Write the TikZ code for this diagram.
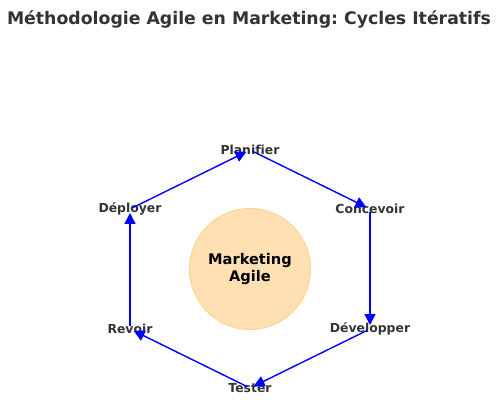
\documentclass[tikz,border=0pt]{standalone}
\usepackage{fontspec}
\setmainfont{DejaVu Sans}[Ligatures=NoCommon]
\frenchspacing
\usetikzlibrary{arrows.meta}
\definecolor{txtgray}{HTML}{333333}
\definecolor{circfill}{RGB}{255,224,178}
\definecolor{circedge}{RGB}{255,212,140}
\tikzset{
  steplabel/.style={text=txtgray, font=\fontsize{12.4}{14}\selectfont\bfseries, inner sep=0pt},
  cyclearrow/.style={draw=blue, line width=1.4pt, -{Triangle[length=11pt,width=11pt]}, shorten <=3pt, shorten >=4pt}
}
\begin{document}
\begin{tikzpicture}[x=1pt,y=-1pt]
\useasboundingbox (0,0) rectangle (500,403);
\node[text=txtgray, font=\fontsize{17.3}{20}\selectfont\bfseries, inner sep=0pt] (title) at (249,19) {Méthodologie Agile en Marketing: Cycles Itératifs};
\node[circle, minimum size=121pt, fill=circfill, draw=circedge, line width=1pt, inner sep=0pt, align=center, font=\fontsize{14.6}{17}\selectfont\bfseries] (center) at (250,269) {Marketing\\[0pt]Agile};
\coordinate (v1) at (250,150);
\coordinate (v2) at (370,209);
\coordinate (v3) at (370,329);
\coordinate (v4) at (250,388);
\coordinate (v5) at (130,329);
\coordinate (v6) at (130,209);
\node[steplabel] (l1) at (v1) {Planifier};
\node[steplabel] (l2) at (v2) {Concevoir};
\node[steplabel] (l3) at (v3) {Développer};
\node[steplabel] (l4) at (v4) {Tester};
\node[steplabel] (l5) at (v5) {Revoir};
\node[steplabel] (l6) at (v6) {Déployer};
\draw[cyclearrow] (v1) -- (v2);
\draw[cyclearrow] (v2) -- (v3);
\draw[cyclearrow] (v3) -- (v4);
\draw[cyclearrow] (v4) -- (v5);
\draw[cyclearrow] (v5) -- (v6);
\draw[cyclearrow] (v6) -- (v1);
\end{tikzpicture}
\end{document}
